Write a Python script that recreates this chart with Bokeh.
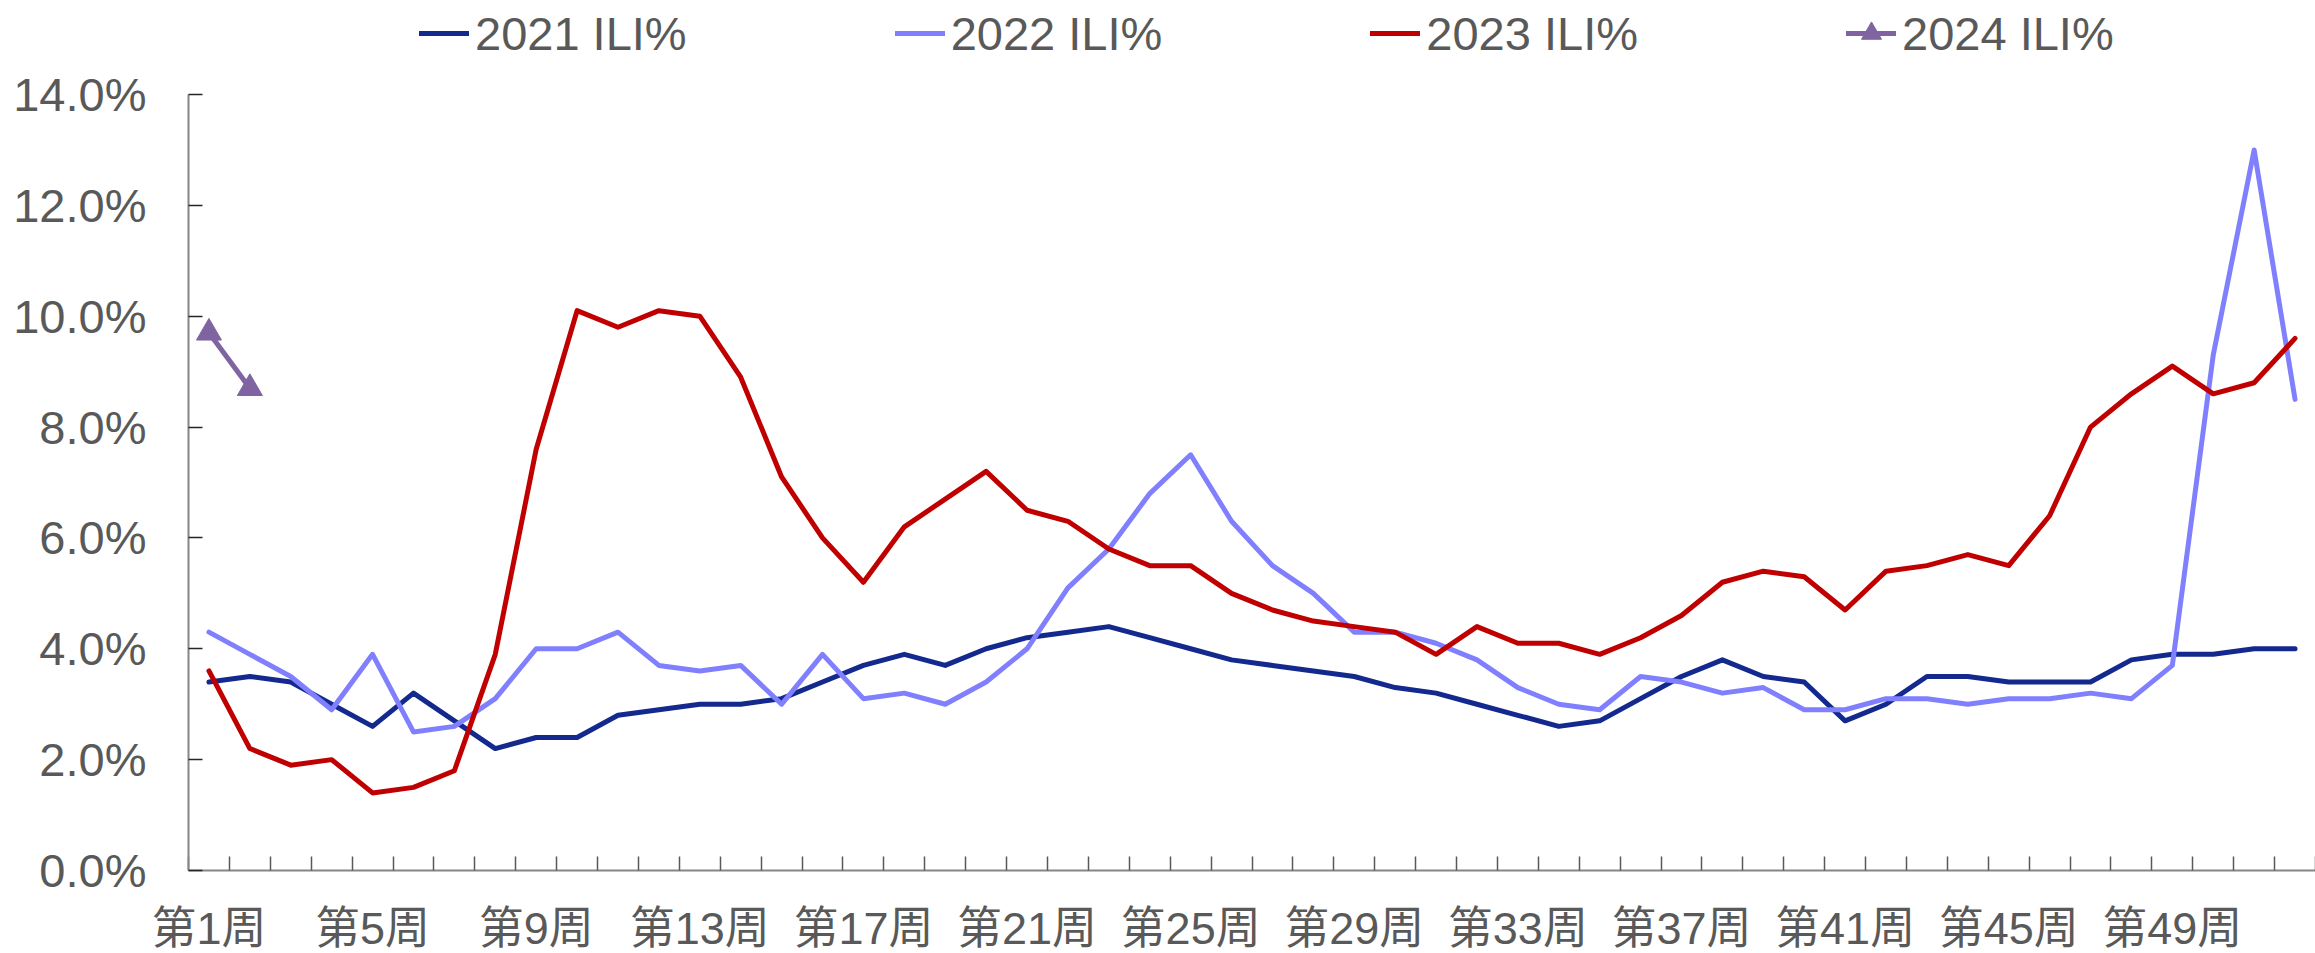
from bokeh.plotting import figure
from bokeh.models import FixedTicker, PrintfTickFormatter, Legend, LegendItem, Range1d
from bokeh.embed import file_html
from bokeh.resources import INLINE

weeks = list(range(1, 53))
tick_weeks = [1, 5, 9, 13, 17, 21, 25, 29, 33, 37, 41, 45, 49]
tick_labels = ["第1周", "第5周", "第9周", "第13周", "第17周", "第21周", "第25周",
               "第29周", "第33周", "第37周", "第41周", "第45周", "第49周"]
y_ticks = [0, 2, 4, 6, 8, 10, 12, 14]

ili_2021 = [3.4, 3.5, 3.4, 3.0, 2.6, 3.2, 2.7, 2.2, 2.4, 2.4,
            2.8, 2.9, 3.0, 3.0, 3.1, 3.4, 3.7, 3.9, 3.7, 4.0,
            4.2, 4.3, 4.4, 4.2, 4.0, 3.8, 3.7, 3.6, 3.5, 3.3,
            3.2, 3.0, 2.8, 2.6, 2.7, 3.1, 3.5, 3.8, 3.5, 3.4,
            2.7, 3.0, 3.5, 3.5, 3.4, 3.4, 3.4, 3.8, 3.9, 3.9,
            4.0, 4.0]
ili_2022 = [4.3, 3.9, 3.5, 2.9, 3.9, 2.5, 2.6, 3.1, 4.0, 4.0,
            4.3, 3.7, 3.6, 3.7, 3.0, 3.9, 3.1, 3.2, 3.0, 3.4,
            4.0, 5.1, 5.8, 6.8, 7.5, 6.3, 5.5, 5.0, 4.3, 4.3,
            4.1, 3.8, 3.3, 3.0, 2.9, 3.5, 3.4, 3.2, 3.3, 2.9,
            2.9, 3.1, 3.1, 3.0, 3.1, 3.1, 3.2, 3.1, 3.7, 9.3,
            13.0, 8.5]
ili_2023 = [3.6, 2.2, 1.9, 2.0, 1.4, 1.5, 1.8, 3.9, 7.6, 10.1,
            9.8, 10.1, 10.0, 8.9, 7.1, 6.0, 5.2, 6.2, 6.7, 7.2,
            6.5, 6.3, 5.8, 5.5, 5.5, 5.0, 4.7, 4.5, 4.4, 4.3,
            3.9, 4.4, 4.1, 4.1, 3.9, 4.2, 4.6, 5.2, 5.4, 5.3,
            4.7, 5.4, 5.5, 5.7, 5.5, 6.4, 8.0, 8.6, 9.1, 8.6,
            8.8, 9.6]
weeks_2024 = [1, 2]
ili_2024 = [9.7, 8.7]

series_names = ["2021 ILI%", "2022 ILI%", "2023 ILI%", "2024 ILI%"]
colors = ["#13298E", "#8080FF", "#C00000", "#8064A2"]

TEXT = "#595959"
FONT = "Liberation Sans, Arial, sans-serif"
CJK_FONT = "Liberation Sans, 'Noto Sans CJK SC', sans-serif"

# Layout: the plot area (weeks 0.5..52.5, 0..14%) occupies pixel columns 188..2315 and
# rows 94..870 of the canvas. The frame is extended to the whole canvas, with both axes
# pinned at the plot-area edges, so the legend and labels are never clipped.
W, H = 2315, 953
AX_LEFT, AX_RIGHT, AX_TOP, AX_BOTTOM = 188, 2315, 94, 870
X_MIN, X_MAX, Y_MIN, Y_MAX = 0.5, 52.5, 0, 14
px_x = (AX_RIGHT - AX_LEFT) / (X_MAX - X_MIN)
px_y = (AX_BOTTOM - AX_TOP) / (Y_MAX - Y_MIN)
x_lo = X_MIN - AX_LEFT / px_x
x_hi = X_MAX + (W - AX_RIGHT) / px_x
y_hi = Y_MAX + AX_TOP / px_y
y_lo = Y_MIN - (H - AX_BOTTOM) / px_y

p = figure(width=W, height=H, output_backend="svg", toolbar_location=None,
           x_range=Range1d(x_lo, x_hi), y_range=Range1d(y_lo, y_hi),
           min_border_left=0, min_border_right=0, min_border_top=0,
           min_border_bottom=0)
p.outline_line_color = None
p.grid.visible = False
p.background_fill_color = "white"

# y axis at x = 0.5
ya = p.yaxis[0]
ya.fixed_location = X_MIN
ya.bounds = (Y_MIN, Y_MAX)
ya.ticker = FixedTicker(ticks=y_ticks)
ya.formatter = PrintfTickFormatter(format="%.1f%%")
ya.axis_line_color = "#868686"
ya.axis_line_width = 2
ya.major_tick_in = 14
ya.major_tick_out = 0
ya.major_tick_line_color = "#262626"
ya.major_tick_line_width = 1.5
ya.minor_tick_line_color = None
ya.major_label_text_font = FONT
ya.major_label_text_font_size = "47px"
ya.major_label_text_color = TEXT
ya.major_label_standoff = 42

# x axis at y = 0: tick marks at week boundaries, labels every 4 weeks
xa = p.xaxis[0]
xa.fixed_location = Y_MIN
xa.bounds = (X_MIN, X_MAX)
xa.ticker = FixedTicker(ticks=tick_weeks, minor_ticks=[w - 0.5 for w in weeks] + [52.5])
xa.major_label_overrides = {w: l for w, l in zip(tick_weeks, tick_labels)}
xa.axis_line_color = "#868686"
xa.axis_line_width = 2
xa.major_tick_in = 0
xa.major_tick_out = 0
xa.minor_tick_in = 14
xa.minor_tick_out = 0
xa.minor_tick_line_color = "#595959"
xa.minor_tick_line_width = 1.5
xa.major_label_text_font = CJK_FONT
xa.major_label_text_font_size = "45px"
xa.major_label_text_color = TEXT
xa.major_label_standoff = 32

r21 = p.line(weeks, ili_2021, line_color=colors[0], line_width=5, line_join="round", line_cap="round")
r22 = p.line(weeks, ili_2022, line_color=colors[1], line_width=5, line_join="round", line_cap="round")
r23 = p.line(weeks, ili_2023, line_color=colors[2], line_width=5, line_join="round", line_cap="round")
r24l = p.line(weeks_2024, ili_2024, line_color=colors[3], line_width=5, line_cap="round")
r24m = p.scatter(weeks_2024, ili_2024, marker="triangle", size=25,
                 fill_color=colors[3], line_color=colors[3])

renders = [[r21], [r22], [r23], [r24l, r24m]]
legend = Legend(items=[LegendItem(label=n, renderers=rs) for n, rs in zip(series_names, renders)],
                location=(AX_LEFT + 231, H - 63), orientation="horizontal",
                border_line_color=None, background_fill_alpha=0, padding=0, margin=0,
                spacing=208, glyph_width=50, glyph_height=60, label_standoff=6,
                label_text_font=FONT, label_text_font_size="47px",
                label_text_color=TEXT)
p.add_layout(legend, "center")

open("out.html", "w").write(file_html(p, INLINE))
